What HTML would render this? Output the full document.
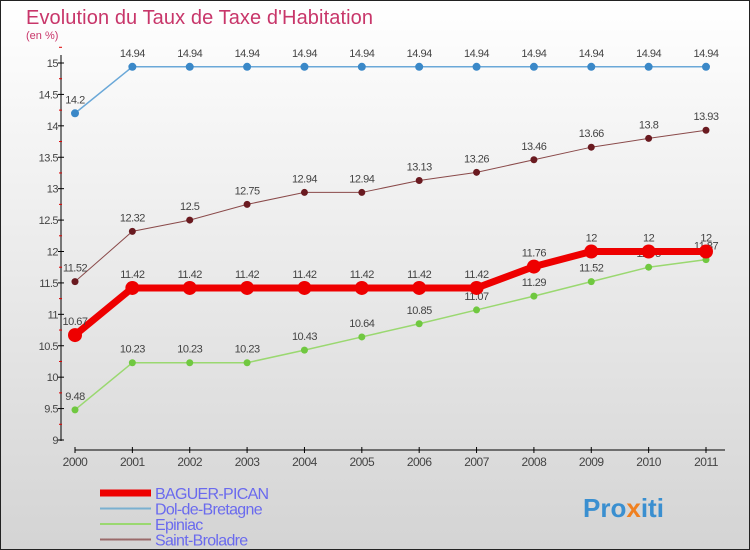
<!DOCTYPE html>
<html><head><meta charset="utf-8"><style>
body{margin:0}
svg{display:block;font-family:"Liberation Sans",sans-serif}
</style></head><body>
<svg width="750" height="550">
<defs><linearGradient id="bg" x1="0" y1="0" x2="0" y2="1"><stop offset="0" stop-color="#ffffff"/><stop offset="1" stop-color="#d4d4d4"/></linearGradient></defs>
<rect x="0.5" y="0.5" width="749" height="549" fill="url(#bg)" stroke="#222"/>
<text x="26" y="24" font-size="20" fill="#c8366a" textLength="347">Evolution du Taux de Taxe d'Habitation</text>
<text x="26" y="39" font-size="11" fill="#c8366a">(en %)</text>
<g id="axes"></g><g id="series"></g><g id="legend"></g>
<text x="583" y="517" font-size="26" font-weight="bold" fill="#3a8fd0">Pro<tspan fill="#f08020">x</tspan>iti</text>
</svg>
<script>
const years=[2000,2001,2002,2003,2004,2005,2006,2007,2008,2009,2010,2011];
const baguer=[10.67,11.42,11.42,11.42,11.42,11.42,11.42,11.42,11.76,12,12,12];
const dol=[14.2,14.94,14.94,14.94,14.94,14.94,14.94,14.94,14.94,14.94,14.94,14.94];
const epiniac=[9.48,10.23,10.23,10.23,10.43,10.64,10.85,11.07,11.29,11.52,11.75,11.87];
const saint=[11.52,12.32,12.5,12.75,12.94,12.94,13.13,13.26,13.46,13.66,13.8,13.93];
const yTicks=[9,9.5,10,10.5,11,11.5,12,12.5,13,13.5,14,14.5,15];
const NS="http://www.w3.org/2000/svg";
const X=i=>75+i*(706-75)/11;
const Y=v=>440-(v-9)*(440-63)/6;
function mk(t,a,p){const e=document.createElementNS(NS,t);for(const k in a)e.setAttribute(k,a[k]);p.appendChild(e);return e;}
const ax=document.getElementById('axes');
let l=mk('line',{x1:61,y1:55,x2:61,y2:441,stroke:'#000'},ax);


l=mk('line',{x1:75,y1:450,x2:725,y2:450,stroke:'#000'},ax);


yTicks.forEach(v=>{
 mk('line',{x1:58,x2:64,y1:Y(v),y2:Y(v),stroke:'#000'},ax);
 mk('line',{x1:59,x2:62,y1:Y(v+0.25),y2:Y(v+0.25),stroke:'#d00'},ax);
 const t=mk('text',{x:58,y:Y(v)+4,'font-size':11,'text-anchor':'end',fill:'#444','letter-spacing':'-0.5'},ax);
 t.textContent=String(v);
 
 
});
years.forEach((yr,i)=>{
 mk('line',{x1:X(i),x2:X(i),y1:447,y2:453,stroke:'#000'},ax);
 const t=mk('text',{x:X(i),y:466,'font-size':12,'text-anchor':'middle',fill:'#444','letter-spacing':'-0.5'},ax);
 t.textContent=yr;
 
 
});
const sg=document.getElementById('series');
function series(vals,color,dot,w,r,name){
 const g=mk('g',{},sg);
 
 
 mk('polyline',{points:vals.map((v,i)=>X(i)+','+Y(v)).join(' '),fill:'none',stroke:color,'stroke-width':w},g);
 vals.forEach((v,i)=>{
  const c=mk('circle',{cx:X(i),cy:Y(v),r:r,fill:dot},g);
  
  
  const t=mk('text',{x:X(i),y:Y(v)-10,'font-size':11,'text-anchor':'middle',fill:'#444','letter-spacing':'-0.5'},g);
  t.textContent=String(v);
  
  
 });
}
series(dol,'#6aa8d8','#3a88c8',1.5,4,'dol-de-bretagne');
series(saint,'#8a4a4a','#6a1a20',1,3.5,'saint-broladre');
series(epiniac,'#9ad870','#70c840',1.5,3.5,'epiniac');
series(baguer,'#ee0000','#ee0000',7,7,'baguer-pican');
const lg=document.getElementById('legend');
const items=[['BAGUER-PICAN','#ee0000',7],['Dol-de-Bretagne','#7ab0d0',2],['Epiniac','#9ad870',2],['Saint-Broladre','#9a6a6a',2]];
items.forEach((it,i)=>{
 const y=493+i*15.5;
 const g=mk('g',{},lg);
 
 
 mk('line',{x1:100,x2:151,y1:y,y2:y,stroke:it[1],'stroke-width':it[2]},g);
 const t=mk('text',{x:155,y:y+6,'font-size':16,fill:'#6a6aee','letter-spacing':'-0.7'},g);
 t.textContent=it[0];
});
</script>
</body></html>
